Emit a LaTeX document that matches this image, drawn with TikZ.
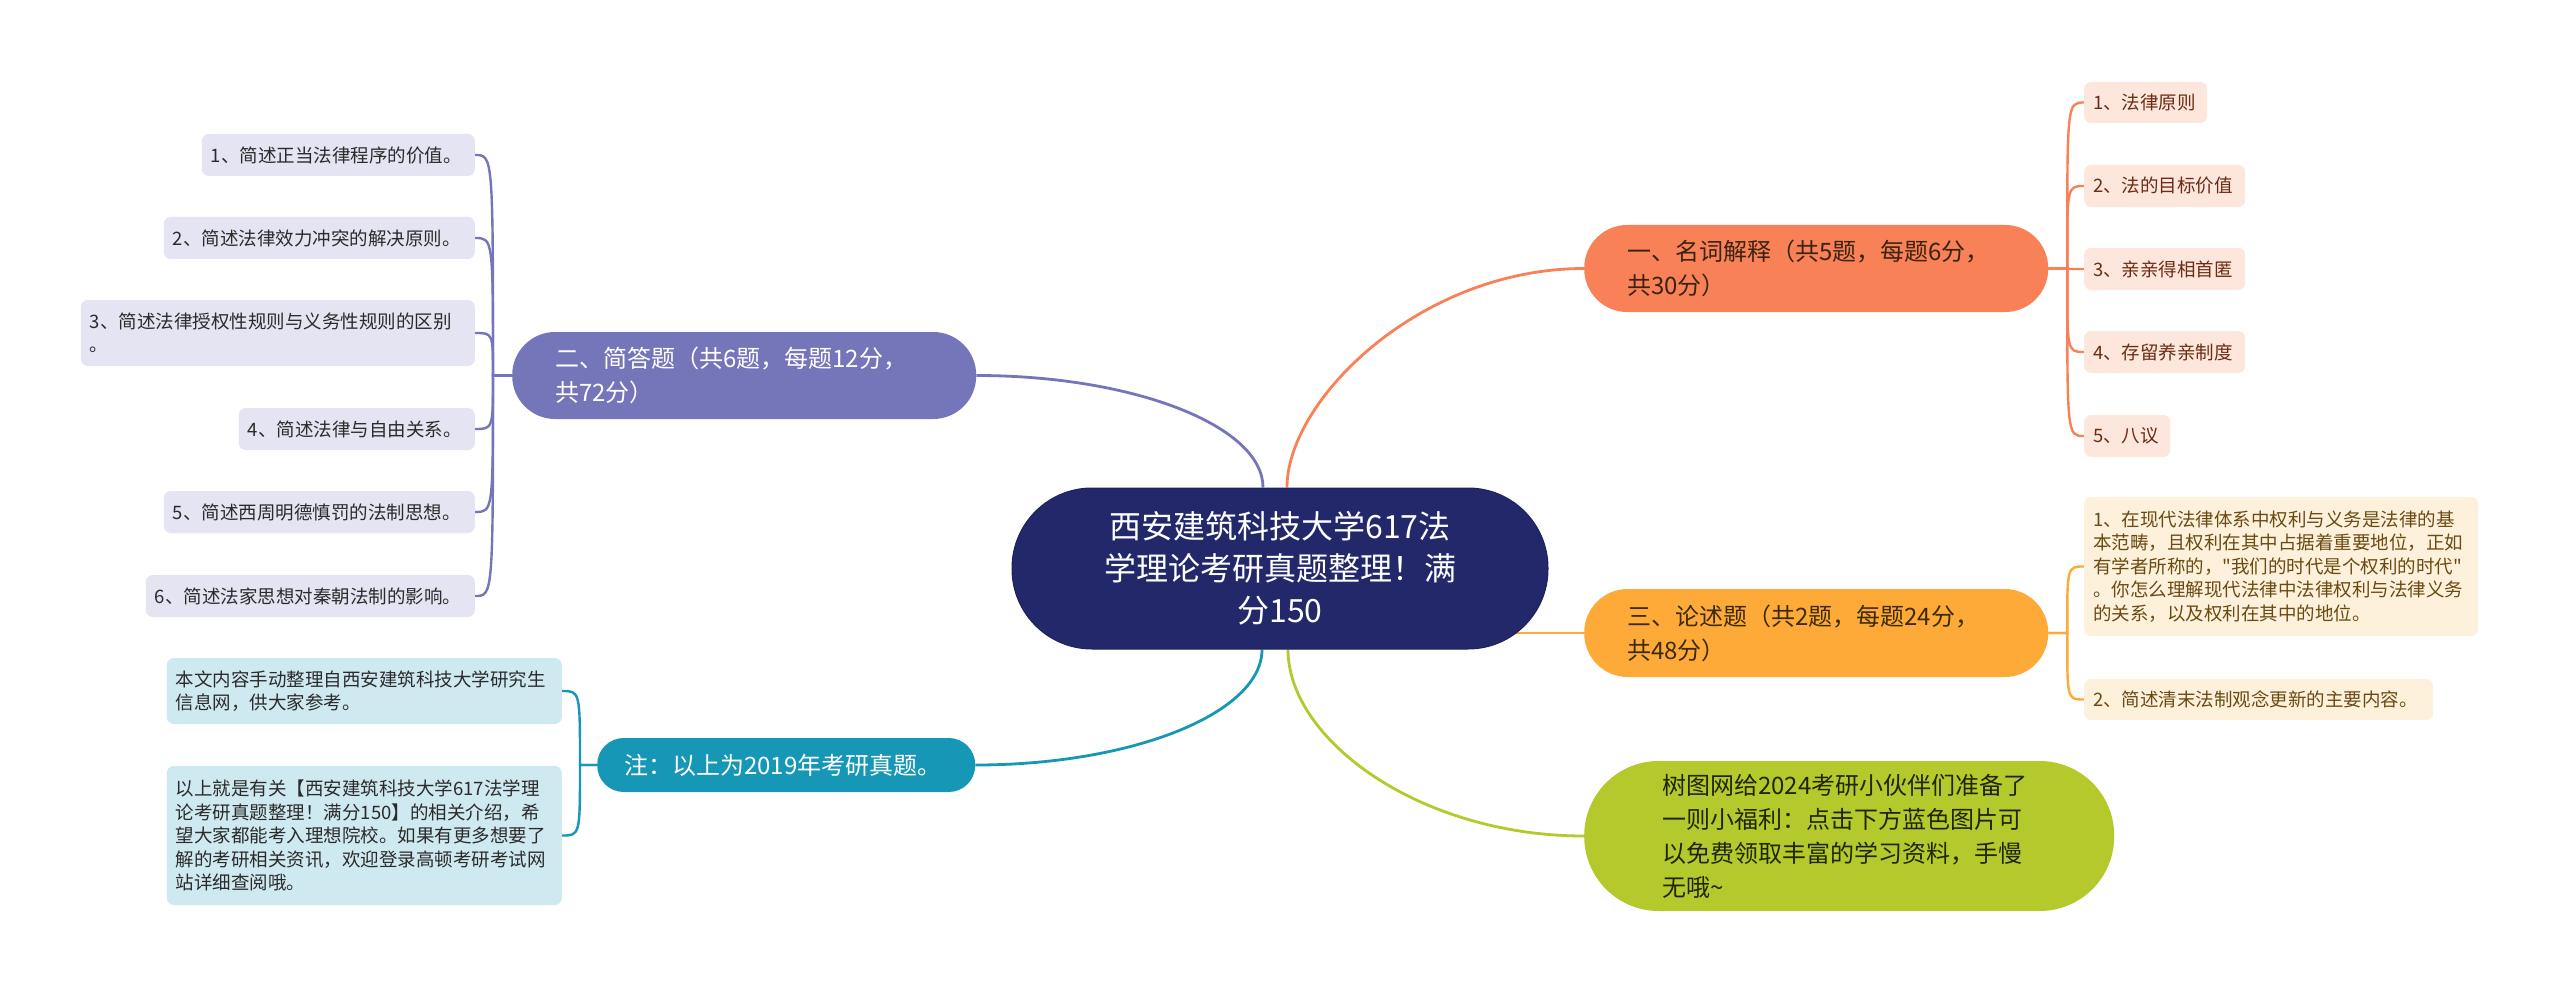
\documentclass[tikz,border=0pt]{standalone}
\usepackage{fontspec}
\newfontfamily\cjk{Noto Sans CJK SC}
\usetikzlibrary{backgrounds}
\definecolor{cNavy}{HTML}{23286B}
\definecolor{cOrg}{HTML}{F98157}
\definecolor{cOrgLeaf}{HTML}{FDE6DC}
\definecolor{cOrgTxt}{HTML}{6B2C14}
\definecolor{cOrgMain}{HTML}{3B2314}
\definecolor{cYel}{HTML}{FDAA38}
\definecolor{cYelLeaf}{HTML}{FEF1DC}
\definecolor{cYelTxt}{HTML}{6B4A12}
\definecolor{cYelMain}{HTML}{3D2B06}
\definecolor{cGrn}{HTML}{B5C92C}
\definecolor{cGrnTxt}{HTML}{1F2600}
\definecolor{cPur}{HTML}{7575BA}
\definecolor{cPurLeaf}{HTML}{E4E4F2}
\definecolor{cTeal}{HTML}{1697B5}
\definecolor{cTealLeaf}{HTML}{CFE9F1}
\definecolor{cLeafTxt}{HTML}{2B2B2B}
\tikzset{
  centernode/.style={fill=cNavy, draw=cNavy!85!black, line width=1pt, text=white,
    font={\cjk\fontsize{32}{42}\selectfont}, align=center, inner ysep=0pt},
  mainnode/.style={font={\cjk\fontsize{24}{34}\selectfont}, align=left, inner ysep=0pt, anchor=west},
  leafbox/.style={font={\cjk\fontsize{18.5}{23.5}\selectfont}, align=left, rounded corners=7pt,
    inner ysep=0pt, inner xsep=9pt},
  orgleaf/.style={leafbox, fill=cOrgLeaf, text=cOrgTxt, anchor=west},
  yelleaf/.style={leafbox, fill=cYelLeaf, text=cYelTxt, anchor=west},
  purleaf/.style={leafbox, fill=cPurLeaf, text=cLeafTxt, anchor=east},
  tealleaf/.style={leafbox, fill=cTealLeaf, text=cLeafTxt, anchor=east},
  mainconn/.style={line width=2.8pt},
  leafconn/.style={line width=2.4pt}
}
\begin{document}
\begin{tikzpicture}[x=1pt,y=-1pt]
\useasboundingbox (0,0) rectangle (2560,995);

% central
\node[centernode, minimum height=161pt, text width=440pt, inner xsep=48pt, rounded corners=80pt] (c) at (1280,568.5)
  {西安建筑科技大学617法\\学理论考研真题整理！满\\分150};

% main branches
\node[mainnode, fill=cOrg, text=cOrgMain, minimum height=87pt, text width=378pt, inner xsep=43pt, rounded corners=43pt] (o) at (1584,268.5)
  {一、名词解释（共5题，每题6分，\\共30分）};
\node[mainnode, fill=cYel, text=cYelMain, minimum height=88pt, text width=378pt, inner xsep=43pt, rounded corners=43.5pt] (y) at (1584,633)
  {三、论述题（共2题，每题24分，\\共48分）};
\node[mainnode, fill=cGrn, text=cGrnTxt, minimum height=150pt, text width=374pt, inner xsep=78pt, rounded corners=74.5pt] (g) at (1584,836)
  {树图网给2024考研小伙伴们准备了\\一则小福利：点击下方蓝色图片可\\以免费领取丰富的学习资料，手慢\\无哦\textasciitilde};
\node[mainnode, fill=cPur, text=white, minimum height=87pt, text width=378pt, inner xsep=43pt, rounded corners=43pt] (pu) at (512,375.5)
  {二、简答题（共6题，每题12分，\\共72分）};
\node[mainnode, fill=cTeal, text=white, minimum height=54pt, text width=324pt, inner xsep=27pt, rounded corners=26.5pt] (t) at (597,765)
  {注：以上为2019年考研真题。};

% orange leaves
\node[orgleaf, minimum height=41pt, text width=105pt] (o1) at (2084,102.5) {1、法律原则};
\node[orgleaf, minimum height=42pt, text width=143pt] (o2) at (2084,186) {2、法的目标价值};
\node[orgleaf, minimum height=42pt, text width=143pt] (o3) at (2084,269) {3、亲亲得相首匿};
\node[orgleaf, minimum height=42pt, text width=143pt] (o4) at (2084,352) {4、存留养亲制度};
\node[orgleaf, minimum height=42pt, text width=68pt] (o5) at (2084,436) {5、八议};

% yellow leaves
\node[yelleaf, minimum height=139pt, text width=376pt] (y1) at (2084,566.5)
  {1、在现代法律体系中权利与义务是法律的基\\本范畴，且权利在其中占据着重要地位，正如\\有学者所称的，"我们的时代是个权利的时代"\\。你怎么理解现代法律中法律权利与法律义务\\的关系，以及权利在其中的地位。};
\node[yelleaf, minimum height=41pt, text width=331pt] (y2) at (2084,699.5) {2、简述清末法制观念更新的主要内容。};

% purple leaves
\node[purleaf, minimum height=42pt, text width=255pt] (p1) at (475,155) {1、简述正当法律程序的价值。};
\node[purleaf, minimum height=42pt, text width=293pt] (p2) at (475,238) {2、简述法律效力冲突的解决原则。};
\node[purleaf, minimum height=66pt, text width=376pt] (p3) at (475,333) {3、简述法律授权性规则与义务性规则的区别\\。};
\node[purleaf, minimum height=42pt, text width=218pt] (p4) at (475,429) {4、简述法律与自由关系。};
\node[purleaf, minimum height=42pt, text width=293pt] (p5) at (475,512) {5、简述西周明德慎罚的法制思想。};
\node[purleaf, minimum height=42pt, text width=311pt] (p6) at (475,596) {6、简述法家思想对秦朝法制的影响。};

% teal leaves
\node[tealleaf, minimum height=66pt, text width=377pt] (t1) at (562,691) {本文内容手动整理自西安建筑科技大学研究生\\信息网，供大家参考。};
\node[tealleaf, minimum height=139pt, text width=377pt] (t2) at (562,835.5)
  {以上就是有关【西安建筑科技大学617法学理\\论考研真题整理！满分150】的相关介绍，希\\望大家都能考入理想院校。如果有更多想要了\\解的考研相关资讯，欢迎登录高顿考研考试网\\站详细查阅哦。};

\begin{pgfonlayer}{background}
\fill[white] (0,0) rectangle (2560,995);
% main connectors
\draw[mainconn, cOrg] ([xshift=7pt]c.north) .. controls (1287,400) and (1420,268.5) .. (o.west);
\draw[mainconn, cPur] (pu.east) .. controls (1134,375.5) and (1263,426) .. ([xshift=-17pt]c.north);
\draw[mainconn, cTeal] (t.east) .. controls (1133,765) and (1262,713) .. ([xshift=-18pt]c.south);
\draw[mainconn, cGrn] ([xshift=8pt]c.south) .. controls (1288,740) and (1420,836) .. (g.west);
\draw[mainconn, cYel] (c.center |- y.west) -- (y.west);
% leaf connectors
\foreach \n in {o1,o2,o3,o4,o5}
  \draw[leafconn, cOrg] (o.east) -- ([xshift=19pt]o.east) .. controls ([xshift=-17pt]\n.west) .. (\n.west);
\foreach \n in {y1,y2}
  \draw[leafconn, cYel] (y.east) -- ([xshift=19pt]y.east) .. controls ([xshift=-17pt]\n.west) .. (\n.west);
\foreach \n in {p1,p2,p3,p4,p5,p6}
  \draw[leafconn, cPur] (pu.west) -- ([xshift=-19pt]pu.west) .. controls ([xshift=18pt]\n.east) .. (\n.east);
\foreach \n in {t1,t2}
  \draw[leafconn, cTeal] (t.west) -- ([xshift=-17pt]t.west) .. controls ([xshift=18pt]\n.east) .. (\n.east);
\end{pgfonlayer}
\end{tikzpicture}
\end{document}
